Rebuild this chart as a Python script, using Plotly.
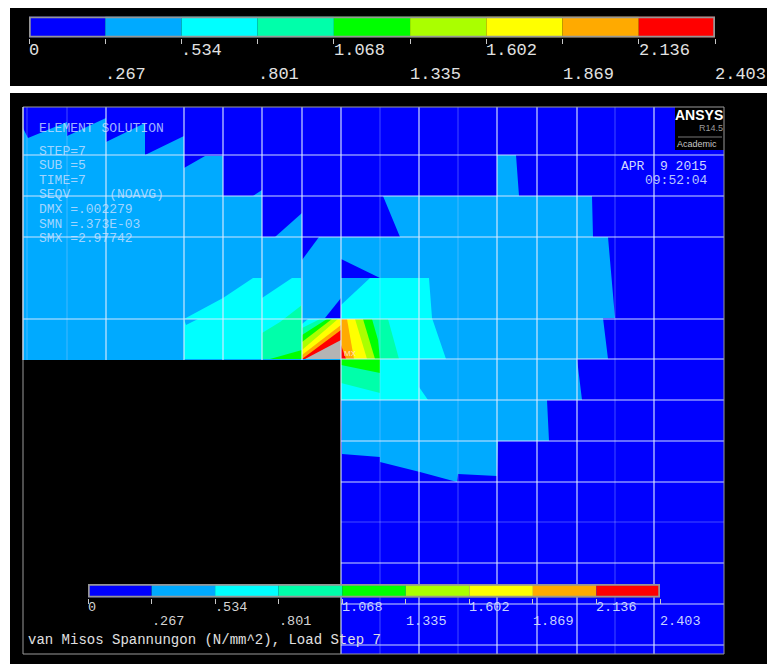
import plotly.graph_objects as go

W, H = 767, 664
MONO = "Liberation Mono"

# legend data
LEVELS = [0, .267, .534, .801, 1.068, 1.335, 1.602, 1.869, 2.136, 2.403]
LEVEL_LABELS = ["0", ".267", ".534", ".801", "1.068", "1.335", "1.602", "1.869", "2.136", "2.403"]
LEVEL_COLORS = ["#0000ff", "#00aaff", "#00ffff", "#00ffaa", "#00ff00", "#aaff00", "#ffff00", "#ffaa00", "#ff0000"]
DARK, LIGHT, CYAN, FOAM, GREEN, LIME, YELLOW, ORANGE, RED = LEVEL_COLORS
GRAY = "#b4b4b4"

# regions of the contour plot: (x list, y list)
BLACK_TOP = ([10, 767, 767, 10], [8, 8, 86, 86])
BLACK_MAIN = ([10, 767, 767, 10], [93, 93, 664, 664])
MODEL = ([23, 724, 724, 341, 341, 23], [107, 107, 654, 654, 360, 360])

LIGHT_MAIN = (
    [23, 28, 67, 67, 106, 106, 145, 145, 184, 184, 205, 223, 223, 253, 262, 262, 275, 302, 302, 400, 383, 497, 497,
     516, 519, 592, 593, 608, 615, 603, 608, 577, 582, 547, 549, 498, 497, 458, 457, 420, 380, 380, 342, 341, 23],
    [128, 138, 122, 136, 118, 142, 123, 155, 136, 168, 156, 156, 196, 196, 190, 237, 237, 213, 237, 237, 196, 196, 155,
     155, 196, 196, 237, 237, 318, 318, 359, 359, 400, 400, 441, 441, 476, 474, 482, 472, 462, 457, 454, 360, 360],
)
DARK_WEDGE_A = ([302, 319, 302], [237, 237, 260])
DARK_WEDGE_B = ([341, 380, 341], [259, 278, 278])
DARK_WEDGE_C = ([325, 341, 341], [318, 298, 318])

CYAN_LEFT = ([184, 223, 253, 262, 262, 292, 301, 302, 184], [319, 298, 278, 278, 298, 278, 278, 359, 359])
LIGHT_NOTCH = ([184, 198, 186], [319, 319, 325])
CYAN_MID = ([302, 308, 341, 341, 302], [324, 319, 319, 359, 359])
CYAN_RIGHT = ([341, 370, 429, 432, 446, 419, 419, 428, 341], [305, 278, 278, 318, 359, 359, 387, 400, 400])

FOAM_LEFT = ([262, 280, 302, 302, 262], [333, 322, 305, 359, 359])
GREEN_LEFT = ([270, 302, 302], [359, 350, 359])

# diagonal bands of the element left of the corner
FOAM_D = ([302, 320, 341, 341, 302], [328, 319, 319, 359, 359])
GREEN_D = ([302, 327, 341, 341, 302], [335, 319, 319, 359, 359])
LIME_D = ([302, 332, 341, 341, 302], [342, 319, 319, 359, 359])
YELLOW_D = ([302, 338, 341, 341, 302], [350, 319, 319, 359, 359])
ORANGE_D = ([302, 341, 341, 302], [355, 325, 359, 359])
RED_D = ([302, 341, 341, 302], [359, 330, 359, 359])
GRAY_D = ([305, 341, 341], [359, 340, 359])

# fan of bands right of the corner
FOAM_R = ([341, 388, 399, 341], [319, 319, 359, 359])
GREEN_R = ([341, 372, 378, 380, 341], [319, 319, 340, 359, 359])
LIME_R = ([341, 363, 375, 341], [319, 319, 359, 359])
YELLOW_R = ([341, 355, 367, 341], [319, 319, 359, 359])
ORANGE_R = ([341, 347, 354, 341], [319, 319, 359, 359])
RED_R = ([341, 346, 341], [345, 359, 359])

FOAM_B = ([341, 380, 380, 341], [359, 359, 393, 383])
GREEN_B = ([341, 380, 380, 341], [359, 359, 373, 365])

LOGO_BOX = ([675, 724, 724, 675], [107, 107, 150, 150])

POLYGONS = [
    (BLACK_TOP, "#000000"), (BLACK_MAIN, "#000000"), (MODEL, DARK), (LIGHT_MAIN, LIGHT),
    (DARK_WEDGE_A, DARK), (DARK_WEDGE_B, DARK), (DARK_WEDGE_C, DARK),
    (CYAN_LEFT, CYAN), (LIGHT_NOTCH, LIGHT), (CYAN_MID, CYAN), (CYAN_RIGHT, CYAN),
    (FOAM_LEFT, FOAM), (GREEN_LEFT, GREEN),
    (FOAM_D, FOAM), (GREEN_D, GREEN), (LIME_D, LIME), (YELLOW_D, YELLOW), (ORANGE_D, ORANGE), (RED_D, RED), (GRAY_D, GRAY),
    (FOAM_R, FOAM), (GREEN_R, GREEN), (LIME_R, LIME), (YELLOW_R, YELLOW), (ORANGE_R, ORANGE), (RED_R, RED),
    (FOAM_B, FOAM), (GREEN_B, GREEN),
    (LOGO_BOX, "#000000"),
]

# mesh lines
V_UPPER = [106, 184, 223, 262, 302]
V_UPPER_FAINT = [27, 67]
V_FULL = [341, 419, 497, 537, 577, 654]
V_FULL_FAINT = [380, 458, 615]
H_UPPER = [155, 196, 237, 319]
H_FULL = [359, 400, 441, 482, 563, 604, 645]
H_FULL_FAINT = [522]

fig = go.Figure()

for (xs, ys), col in POLYGONS:
    fig.add_trace(go.Scatter(x=xs + xs[:1], y=ys + ys[:1], mode="lines", fill="toself",
                             fillcolor=col, line=dict(width=0), hoverinfo="skip", showlegend=False))


def mesh(v_up, v_full, h_up, h_full):
    xs, ys = [], []
    for v in v_up:
        xs += [v, v, None]; ys += [107, 360, None]
    for v in v_full:
        xs += [v, v, None]; ys += [107, 654, None]
    for h in h_up:
        xs += [23, 724, None]; ys += [h, h, None]
    for h in h_full:
        xs += [341, 724, None]; ys += [h, h, None]
    return xs, ys


for args, col, w in [
    ((V_UPPER_FAINT, V_FULL_FAINT, [], H_FULL_FAINT), "rgba(190,215,255,0.35)", 1),
    ((V_UPPER, V_FULL, H_UPPER, H_FULL), "rgba(222,235,255,0.92)", 1.2),
]:
    xs, ys = mesh(*args)
    fig.add_trace(go.Scatter(x=xs, y=ys, mode="lines", line=dict(color=col, width=w), hoverinfo="skip", showlegend=False))

# outline of the plot
fig.add_trace(go.Scatter(x=[23, 724, 724, 23, 23], y=[107, 107, 654, 654, 107], mode="lines",
                         line=dict(color="#9a9a9a", width=1), hoverinfo="skip", showlegend=False))
# upper part of the left edge is brighter
fig.add_trace(go.Scatter(x=[23, 23], y=[107, 360], mode="lines",
                         line=dict(color="rgba(222,235,255,0.9)", width=1.2), hoverinfo="skip", showlegend=False))

widths = [b - a for a, b in zip(LEVELS[:-1], LEVELS[1:])]
for ax in ("2", "3"):
    fig.add_trace(go.Bar(x=widths, base=LEVELS[:-1], y=[0.5] * 9, width=1, orientation="h",
                         marker=dict(color=LEVEL_COLORS, line=dict(width=0)), xaxis="x" + ax, yaxis="y" + ax,
                         hoverinfo="skip", showlegend=False))
    fig.add_trace(go.Scatter(x=[LEVELS[0], LEVELS[-1], LEVELS[-1], LEVELS[0], LEVELS[0]], y=[0, 0, 1, 1, 0],
                             mode="lines", line=dict(color="#969696", width=3.5), cliponaxis=False,
                             xaxis="x" + ax, yaxis="y" + ax, hoverinfo="skip", showlegend=False))


def legend_axis(x0, x1, y0, y1, anchor):
    xa = dict(domain=[x0 / W, x1 / W], range=[LEVELS[0], LEVELS[-1]], anchor=anchor, tickvals=LEVELS,
              showticklabels=False, ticks="outside", ticklen=5, tickwidth=1, tickcolor="#c8c8c8",
              showgrid=False, zeroline=False, showline=False)
    ya = dict(domain=[1 - y1 / H, 1 - y0 / H], range=[0, 1], visible=False, fixedrange=True)
    return xa, ya


x2, y2 = legend_axis(29, 715, 16.5, 37.5, "y2")
x3, y3 = legend_axis(88, 660, 584, 597.5, "y3")

annotations = []


def txt(x, y, s, size=13, color="#d6dcff", xref="x", family=MONO, anchor="left"):
    annotations.append(dict(x=x, y=1 - y / H if xref != "x" else y, xref=xref, yref="paper" if xref != "x" else "y",
                            text=s, showarrow=False, xanchor=anchor, yanchor="middle", xshift=0,
                            font=dict(family=family, size=size, color=color), borderpad=0, borderwidth=0))


for i, lab in enumerate(LEVEL_LABELS):
    txt(LEVELS[i], 51 if i % 2 == 0 else 74, lab, size=17, color="#e2e2e2", xref="x2")
    col = "#d4d4d4" if LEVELS[i] < 1.068 else "#c8d4ff"
    txt(LEVELS[i], 607 if i % 2 == 0 else 621, lab, size=13.5, color=col, xref="x3")

INFO_LINES = ["ELEMENT SOLUTION", "STEP=7", "SUB =5", "TIME=7", "SEQV\u00a0\u00a0\u00a0\u00a0\u00a0(NOAVG)",
              "DMX =.002279", "SMN =.373E-03", "SMX =2.97742"]
INFO_ROWS = [128, 151, 165, 180, 194, 209, 224, 238]
for s, y in zip(INFO_LINES, INFO_ROWS):
    txt(39, y, s, size=13, color="rgba(205,225,255,0.8)")

txt(621, 166, "APR\u00a0\u00a09\u00a02015", size=13, color="#cfd6ff")
txt(645, 180, "09:52:04", size=13, color="#b8c4ff")
txt(723, 115, "<b>ANSYS</b>", size=14, color="#ffffff", family="Liberation Sans", anchor="right")
txt(723, 128, "R14.5", size=9, color="#9a9a9a", family="Liberation Sans", anchor="right")
txt(717, 144, "Academic", size=9, color="#c8c8c8", family="Liberation Sans", anchor="right")
txt(344, 353, "MX", size=8, color="#ffe0c0", family="Liberation Sans")
txt(28, 640, "van Misos Spannungon (N/mm^2), Load Step 7", size=14, color="#e0e0e0")

fig.add_trace(go.Scatter(x=[678, 722], y=[137, 137], mode="lines", line=dict(color="#777777", width=1),
                         hoverinfo="skip", showlegend=False))

fig.update_layout(
    width=W, height=H, margin=dict(l=0, r=0, t=0, b=0), paper_bgcolor="#ffffff", plot_bgcolor="rgba(0,0,0,0)",
    showlegend=False, barmode="overlay", annotations=annotations,
    xaxis=dict(range=[0, W], domain=[0, 1], visible=False, fixedrange=True),
    yaxis=dict(range=[H, 0], domain=[0, 1], visible=False, fixedrange=True),
    xaxis2=x2, yaxis2=y2, xaxis3=x3, yaxis3=y3,
)

fig.write_html("out.html", config={"displayModeBar": False},
               post_script="document.body.style.margin='0';document.body.style.background='#ffffff';")
